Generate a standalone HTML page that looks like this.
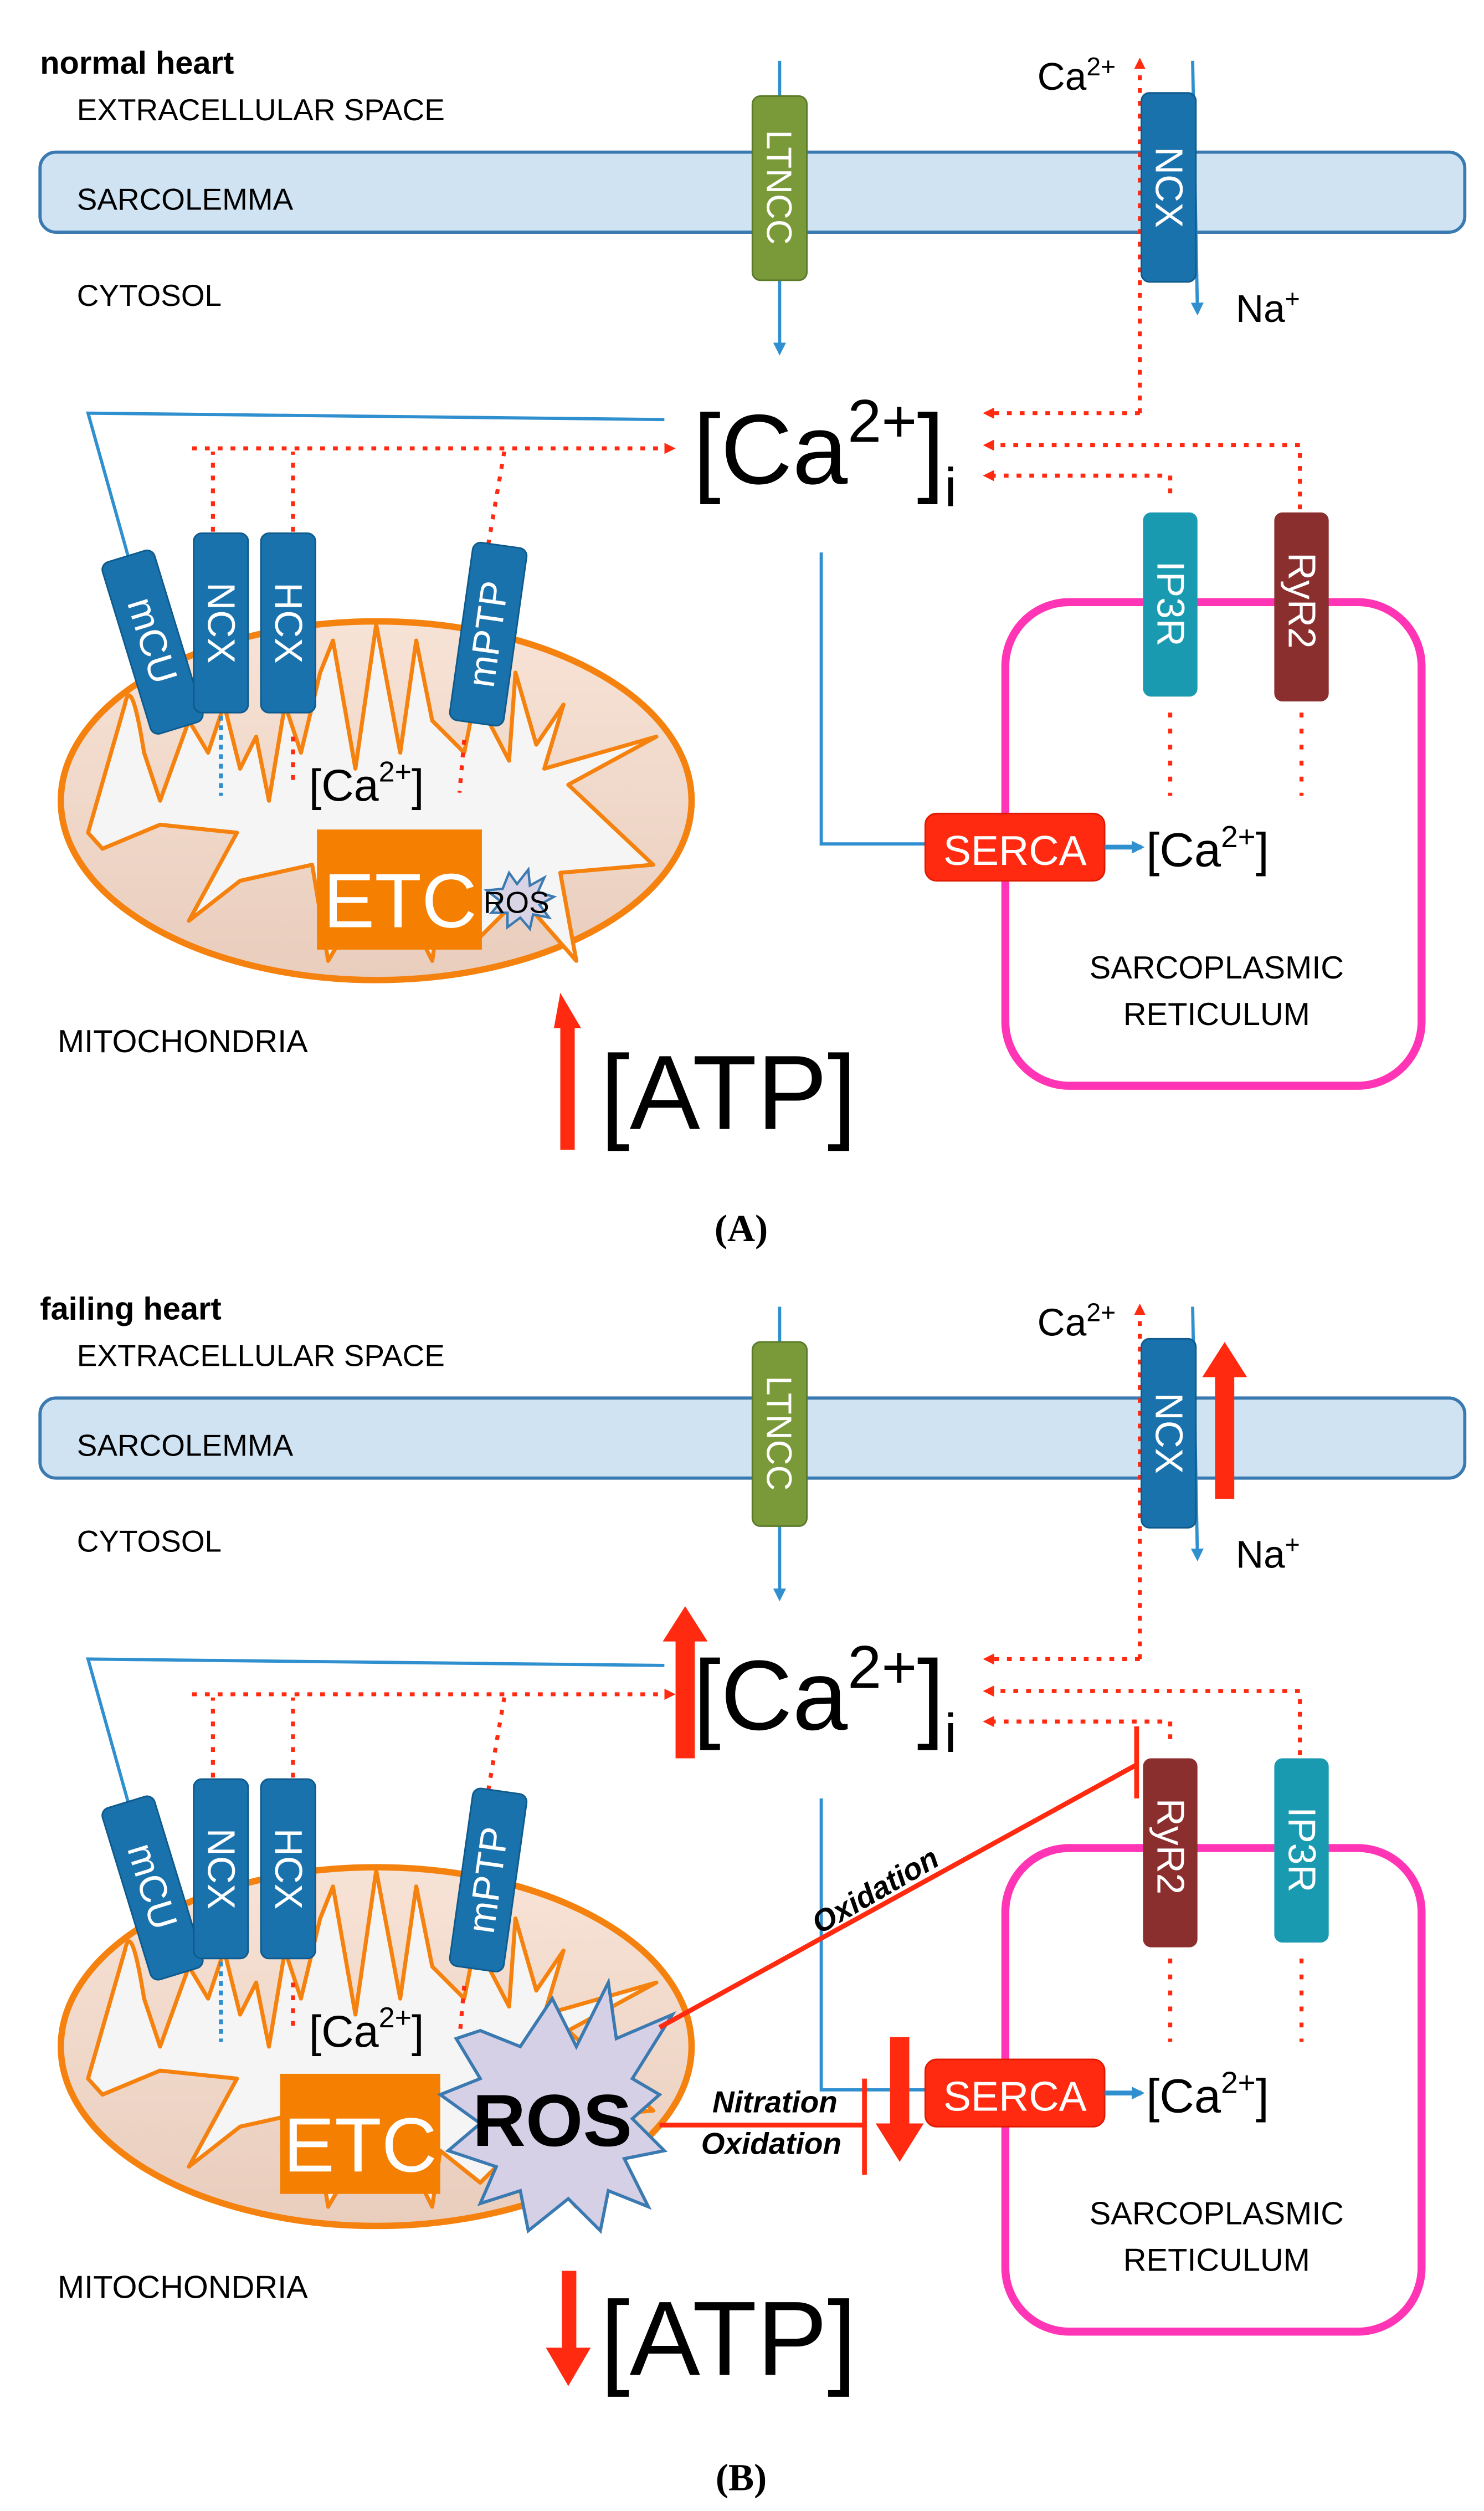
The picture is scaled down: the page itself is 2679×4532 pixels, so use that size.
<!DOCTYPE html>
<html><head><meta charset="utf-8"><style>
html,body{margin:0;padding:0;background:#fff}
svg{display:block}
text{font-family:"Liberation Sans","DejaVu Sans",sans-serif}
</style></head><body>
<svg width="2679" height="4532" viewBox="0 0 927 1568" preserveAspectRatio="none" xmlns="http://www.w3.org/2000/svg">
<defs>
<marker id="ab" markerWidth="8" markerHeight="8" refX="6" refY="4" orient="auto" markerUnits="userSpaceOnUse"><path d="M0,0 L8,4 L0,8 z" fill="#2f8fcf"/></marker>
<marker id="ar" markerWidth="7" markerHeight="7" refX="5" refY="3.5" orient="auto" markerUnits="userSpaceOnUse"><path d="M0,0 L7,3.5 L0,7 z" fill="#ff2a10"/></marker>
<linearGradient id="mg" x1="0" y1="0" x2="0" y2="1"><stop offset="0" stop-color="#f7e3d6"/><stop offset="1" stop-color="#e9cdbd"/></linearGradient>
<g id="mito">
 <ellipse cx="235" cy="500" rx="197" ry="112" fill="url(#mg)" stroke="#f5820f" stroke-width="4"/>
 <path d="M55,520 L78,440 Q82,420 90,470 L100,500 L118,450 L130,470 L140,440 L150,480 L160,460 L168,500 L178,440 L188,470 L200,420 L208,400 L222,480 L235,390 L250,470 L260,400 L270,450 L290,470 L300,420 L305,450 L318,475 L322,420 L335,465 L352,440 L340,480 L410,460 L355,490 L408,540 L350,545 L360,600 L325,560 L300,585 L275,565 L270,600 L240,540 L205,600 L195,540 L150,550 L118,575 L148,520 L100,515 L64,530 Z" fill="#f5f5f5" stroke="#f5820f" stroke-width="2.5" stroke-linejoin="round"/>
 <g fill="#1a72ad" stroke="#0f5a8c" stroke-width="1">
  <rect x="78" y="345" width="34" height="112" rx="5" transform="rotate(-17 95 400)"/>
  <rect x="121" y="333" width="34" height="112" rx="5"/>
  <rect x="163" y="333" width="34" height="112" rx="5"/>
  <rect x="288" y="340" width="34" height="112" rx="5" transform="rotate(8 305 396)"/>
 </g>
 <g fill="#fff" font-size="24" text-anchor="middle">
  <text transform="translate(95,400) rotate(73)" y="8">mCU</text>
  <text transform="translate(138,389) rotate(90)" y="8">NCX</text>
  <text transform="translate(180,389) rotate(90)" y="8">HCX</text>
  <text transform="translate(305,396) rotate(-82)" y="8">mPTP</text>
 </g>
 <line x1="138" y1="447" x2="138" y2="497" stroke="#2f8fcf" stroke-width="2.5" stroke-dasharray="3,3"/>
 <line x1="183" y1="460" x2="183" y2="490" stroke="#ff2a10" stroke-width="2.5" stroke-dasharray="3,5"/>
 <line x1="290" y1="462" x2="287" y2="495" stroke="#ff2a10" stroke-width="2.5" stroke-dasharray="3,5"/>
 <text x="193" y="500" font-size="28">[Ca<tspan font-size="18" dy="-12">2+</tspan><tspan dy="12">]</tspan></text>
</g>
<g id="memb">
 <rect x="25" y="95" width="890" height="50" rx="10" fill="#cfe3f3" stroke="#3a7ab0" stroke-width="2"/>
 <text x="48" y="75" font-size="19">EXTRACELLULAR SPACE</text>
 <text x="48" y="131" font-size="19">SARCOLEMMA</text>
 <text x="48" y="191" font-size="19">CYTOSOL</text>
 <text x="648" y="56" font-size="24">Ca<tspan font-size="16" dy="-9">2+</tspan></text>
 <text x="772" y="201" font-size="24">Na<tspan font-size="16" dy="-9">+</tspan></text>
 <line x1="487" y1="38" x2="487" y2="220" stroke="#2f8fcf" stroke-width="2" marker-end="url(#ab)"/>
 <rect x="470" y="60" width="34" height="115" rx="5" fill="#7a9a3a" stroke="#5a7a2a"/>
 <text transform="translate(487,117) rotate(90)" y="8" text-anchor="middle" fill="#fff" font-size="22">LTNCC</text>
 <line x1="712" y1="258" x2="712" y2="38" stroke="#ff2a10" stroke-width="2.5" stroke-dasharray="3,5" marker-end="url(#ar)"/>
 <line x1="745" y1="38" x2="748" y2="195" stroke="#2f8fcf" stroke-width="2" marker-end="url(#ab)"/>
 <rect x="713" y="58" width="34" height="118" rx="5" fill="#1a72ad" stroke="#0f5a8c"/>
 <text transform="translate(730,117) rotate(90)" y="8" text-anchor="middle" fill="#fff" font-size="24">NCX</text>
 <path d="M415,262 L55,258 L120,490" fill="none" stroke="#2f8fcf" stroke-width="2" marker-end="url(#ab)"/>
 <line x1="120" y1="280" x2="420" y2="280" stroke="#ff2a10" stroke-width="2.5" stroke-dasharray="3,5" marker-end="url(#ar)"/>
 <line x1="133" y1="332" x2="133" y2="282" stroke="#ff2a10" stroke-width="2.5" stroke-dasharray="3,5"/>
 <line x1="183" y1="332" x2="183" y2="282" stroke="#ff2a10" stroke-width="2.5" stroke-dasharray="3,5"/>
 <line x1="305" y1="340" x2="315" y2="282" stroke="#ff2a10" stroke-width="2.5" stroke-dasharray="3,5"/>
 <text x="433" y="302" font-size="62">[Ca<tspan font-size="38" dy="-26">2+</tspan><tspan dy="26">]</tspan><tspan font-size="34" dy="14">i</tspan></text>
 <line x1="712" y1="258" x2="616" y2="258" stroke="#ff2a10" stroke-width="2.5" stroke-dasharray="3,5" marker-end="url(#ar)"/>
 <path d="M812,318 L812,278 L616,278" fill="none" stroke="#ff2a10" stroke-width="2.5" stroke-dasharray="3,5" marker-end="url(#ar)"/>
 <path d="M731,308 L731,297 L616,297" fill="none" stroke="#ff2a10" stroke-width="2.5" stroke-dasharray="3,5" marker-end="url(#ar)"/>
 <rect x="628" y="376" width="260" height="302" rx="40" fill="none" stroke="#ff35b5" stroke-width="5"/>
 <line x1="731" y1="445" x2="731" y2="497" stroke="#ff2a10" stroke-width="2.5" stroke-dasharray="3,7"/>
 <line x1="813" y1="445" x2="813" y2="497" stroke="#ff2a10" stroke-width="2.5" stroke-dasharray="3,7"/>
 <path d="M513,345 L513,527 L578,527" fill="none" stroke="#2f8fcf" stroke-width="2"/>
 <rect x="578" y="508" width="112" height="42" rx="7" fill="#ff2a10" stroke="#e01a00"/>
 <text x="634" y="540" fill="#fff" font-size="26" text-anchor="middle">SERCA</text>
 <line x1="690" y1="529" x2="713" y2="529" stroke="#2f8fcf" stroke-width="3" marker-end="url(#ab)"/>
 <text x="716" y="541" font-size="30">[Ca<tspan font-size="19" dy="-12">2+</tspan><tspan dy="12">]</tspan></text>
 <text x="760" y="611" font-size="20" text-anchor="middle">SARCOPLASMIC</text>
 <text x="760" y="640" font-size="20" text-anchor="middle">RETICULUM</text>
 <text x="36" y="657" font-size="20">MITOCHONDRIA</text>
 <text x="375" y="705" font-size="66">[ATP]</text>
</g>
</defs>

<!-- Panel A -->
<text x="25" y="46" font-size="20" font-weight="bold">normal heart</text>
<use href="#memb"/>
<use href="#mito"/>
<rect x="198" y="518" width="103" height="75" fill="#f57f00"/>
<text x="250" y="579" fill="#fff" font-size="48" text-anchor="middle">ETC</text>
<polygon points="318,545 323,552 330,543 331,553 340,548 336,557 346,560 337,565 343,573 333,571 331,580 325,573 317,579 317,570 307,570 313,563 304,556 314,555" fill="#d9d3e6" stroke="#3a7ab0" stroke-width="1.5"/>
<text x="302" y="570" font-size="19">ROS</text>
<rect x="714" y="320" width="34" height="115" rx="5" fill="#1a9ab0"/>
<text transform="translate(731,377) rotate(90)" y="8" text-anchor="middle" fill="#fff" font-size="24">IP3R</text>
<rect x="796" y="320" width="34" height="118" rx="5" fill="#8b2e2e"/>
<text transform="translate(813,375) rotate(90)" y="8" text-anchor="middle" fill="#fff" font-size="24">RyR2</text>
<polygon points="350,620 363,642 359,642 359,718 350,718 350,642 346,642" fill="#ff2a10"/>
<text x="463" y="775" font-size="24" font-weight="bold" text-anchor="middle" style="font-family:'Liberation Serif',serif">(A)</text>

<!-- Panel B -->
<g transform="translate(0,778)">
<text x="25" y="46" font-size="20" font-weight="bold">failing heart</text>
<use href="#memb"/>
<use href="#mito"/>
<polygon points="765,60 779,82 771,82 771,158 759,158 759,82 751,82" fill="#ff2a10"/>
<polygon points="428,225 442,247 434,247 434,320 422,320 422,247 414,247" fill="#ff2a10"/>
<rect x="714" y="320" width="34" height="118" rx="5" fill="#8b2e2e"/>
<text transform="translate(731,375) rotate(90)" y="8" text-anchor="middle" fill="#fff" font-size="24">RyR2</text>
<rect x="796" y="320" width="34" height="115" rx="5" fill="#1a9ab0"/>
<text transform="translate(813,377) rotate(90)" y="8" text-anchor="middle" fill="#fff" font-size="24">IP3R</text>
<rect x="175" y="517" width="100" height="75" fill="#f57f00"/>
<text x="225" y="578" fill="#fff" font-size="48" text-anchor="middle">ETC</text>
<polygon points="300,490 325,500 345,470 360,500 380,460 385,495 420,480 395,520 412,530 395,545 415,565 390,570 405,600 380,590 375,615 355,595 330,615 325,590 300,598 310,575 280,565 300,548 275,530 300,520 285,495" fill="#d6d0e6" stroke="#3a7ab0" stroke-width="2"/>
<text x="345" y="562" font-size="46" font-weight="bold" text-anchor="middle">ROS</text>
<line x1="412" y1="488" x2="710" y2="324" stroke="#ff2a10" stroke-width="3"/>
<line x1="710" y1="300" x2="710" y2="345" stroke="#ff2a10" stroke-width="3"/>
<text transform="translate(512,430) rotate(-30)" font-size="19" font-weight="bold" font-style="italic">Oxidation</text>
<line x1="412" y1="549" x2="540" y2="549" stroke="#ff2a10" stroke-width="3"/>
<line x1="540" y1="520" x2="540" y2="580" stroke="#ff2a10" stroke-width="3"/>
<text x="445" y="541" font-size="19" font-weight="bold" font-style="italic">Nitration</text>
<text x="438" y="567" font-size="19" font-weight="bold" font-style="italic">Oxidation</text>
<polygon points="556,494 568,494 568,548 577,548 562,572 547,548 556,548" fill="#ff2a10"/>
<polygon points="351,640 360,640 360,688 369,688 355,712 341,688 351,688" fill="#ff2a10"/>
<text x="463" y="777" font-size="24" font-weight="bold" text-anchor="middle" style="font-family:'Liberation Serif',serif">(B)</text>
</g>
</svg>
</body></html>
